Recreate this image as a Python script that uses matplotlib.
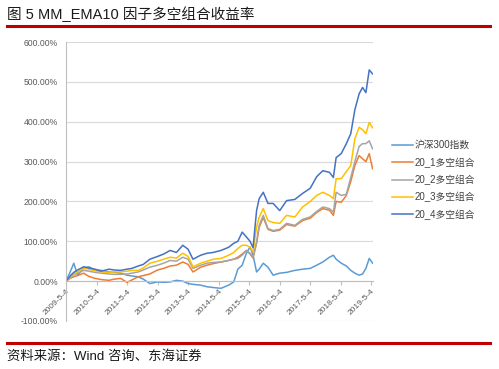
#!/usr/bin/env python3
"""MM_EMA10 factor long-short cumulative return chart."""

import pandas as pd
import matplotlib
matplotlib.use("Agg")
import matplotlib.pyplot as plt
from matplotlib.ticker import FuncFormatter

plt.rcParams['font.family'] = ['Liberation Sans', 'Noto Sans CJK SC', 'DejaVu Sans']

# sample dates
dates = pd.to_datetime([
    "2009-05-04", "2009-07-01", "2009-08-05", "2009-09-20", "2009-12-01",
    "2010-02-01", "2010-04-15", "2010-07-01", "2010-10-01", "2010-12-01",
    "2011-02-15", "2011-05-04", "2011-07-01", "2011-09-15", "2011-11-15",
    "2012-02-01", "2012-05-04", "2012-07-15", "2012-10-01", "2012-12-15",
    "2013-03-01", "2013-05-04", "2013-07-01", "2013-10-01", "2013-12-15",
    "2014-03-01", "2014-06-01", "2014-09-01", "2014-11-01", "2014-12-20",
    "2015-02-10", "2015-04-01", "2015-05-15", "2015-06-20", "2015-08-01",
    "2015-09-01", "2015-10-20", "2015-12-15", "2016-02-15", "2016-05-04",
    "2016-07-25", "2016-11-01", "2017-02-01", "2017-05-04", "2017-07-20",
    "2017-10-01", "2017-12-20", "2018-02-05", "2018-03-10", "2018-05-10",
    "2018-07-10", "2018-09-01", "2018-10-20", "2018-12-10", "2019-01-20",
    "2019-03-01", "2019-04-10", "2019-05-20",
])

# cumulative returns in %
hs300 = [0, 27, 45, 15, 33, 36, 28, 27, 23, 22,
         20, 15, 13, 11, 5, -6, -2, -3, -2, 2,
         0, -6, -8, -10, -14, -16, -18, -10, -2, 30,
         40, 70, 86, 65, 23, 30, 45, 35, 15, 20,
         22, 27, 30, 32, 40, 48, 60, 65, 55, 45,
         38, 27, 20, 15, 18, 32, 57, 45]
ls_1 = [0, 8, 11, 14, 20, 12, 7, 4, 2, 5,
        7, -3, 3, 11, 14, 18, 28, 32, 38, 40,
        48, 42, 23, 35, 40, 44, 48, 52, 55, 60,
        68, 77, 68, 58, 95, 135, 160, 130, 125, 128,
        142, 138, 152, 158, 172, 182, 178, 165, 200, 198,
        215, 250, 290, 315, 307, 300, 320, 282]
ls_2 = [0, 10, 16, 20, 27, 25, 22, 20, 18, 17,
        17, 18, 20, 23, 28, 35, 40, 45, 52, 50,
        60, 55, 32, 40, 45, 47, 48, 52, 55, 57,
        65, 77, 70, 61, 98, 140, 165, 132, 127, 130,
        145, 140, 155, 161, 175, 186, 182, 173, 223, 215,
        218, 260, 300, 338, 345, 345, 352, 332]
ls_3 = [0, 12, 18, 24, 32, 30, 26, 23, 22, 23,
        23, 25, 27, 27, 33, 45, 50, 55, 60, 58,
        70, 62, 36, 45, 50, 55, 57, 65, 72, 82,
        90, 90, 85, 73, 136, 160, 182, 152, 147, 145,
        165, 161, 186, 200, 215, 223, 215, 207, 257, 257,
        275, 290, 357, 386, 380, 370, 398, 385]
ls_4 = [0, 15, 22, 28, 36, 33, 30, 25, 30, 28,
        27, 30, 32, 38, 42, 55, 62, 68, 77, 72,
        90, 80, 55, 65, 70, 72, 77, 85, 95, 100,
        123, 111, 100, 84, 177, 207, 223, 195, 195, 177,
        202, 205, 220, 233, 262, 277, 273, 260, 310, 320,
        345, 370, 430, 470, 486, 473, 530, 520]

names = ["沪深300指数", "20_1多空组合", "20_2多空组合", "20_3多空组合", "20_4多空组合"]
colors = ["#5B9BD5", "#ED7D31", "#A5A5A5", "#FFC000", "#4472C4"]
tick_dates = pd.to_datetime(["%d-05-04" % y for y in range(2009, 2020)])
tick_labels = ["%d-5-4" % y for y in range(2009, 2020)]

fig = plt.figure(figsize=(4.99, 3.69), dpi=100)

# header and footer
fig.text(7 / 499, 1 - 14 / 369, "图 5 MM_EMA10 因子多空组合收益率", fontsize=10.5,
         ha='left', va='center', color='#1a1a1a')
fig.add_artist(plt.Line2D([7 / 499, 490 / 499], [1 - 26 / 369] * 2, color='#C00000', lw=2.2))
fig.add_artist(plt.Line2D([7 / 499, 490 / 499], [1 - 343 / 369] * 2, color='#C00000', lw=2.2))
fig.text(7 / 499, 1 - 357 / 369, "资料来源：Wind 咨询、东海证券", fontsize=9.6,
         ha='left', va='center', color='#1a1a1a')

ax = fig.add_axes([66 / 499, 1 - 321 / 369, (373 - 66) / 499, (321 - 42) / 369])
for vals, name, c in zip([hs300, ls_1, ls_2, ls_3, ls_4], names, colors):
    ax.plot(dates, vals, color=c, lw=1.1, label=name)

ax.set_ylim(-100, 600)
ax.set_xlim(pd.Timestamp("2009-05-04"), pd.Timestamp("2019-05-25"))
ax.set_yticks(range(-100, 601, 100))
ax.yaxis.set_major_formatter(FuncFormatter(lambda v, p: "%.2f%%" % v))
ax.grid(axis='y', color='#D9D9D9', lw=0.8)
ax.set_axisbelow(True)

# category axis crosses at 0
ax.spines['bottom'].set_position(('data', 0))
ax.spines['bottom'].set_color('#BFBFBF')
ax.spines['left'].set_color('#BFBFBF')
ax.spines['top'].set_visible(False)
ax.spines['right'].set_visible(False)
ax.set_xticks(tick_dates)
ax.set_xticklabels(tick_labels, rotation=45, ha='right', va='top', rotation_mode='anchor')
ax.tick_params(axis='x', length=3, color='#BFBFBF', labelsize=6, labelcolor='#595959', pad=2)
ax.tick_params(axis='y', length=0, labelsize=6.2, labelcolor='#595959', pad=6)

ax.legend(loc='center left', bbox_to_anchor=(383 / 499, 1 - 180 / 369), bbox_transform=fig.transFigure,
          frameon=False, fontsize=7, handlelength=2.2, handletextpad=0.1, labelspacing=0.72,
          labelcolor='#404040')

plt.savefig("out.png", dpi=100)
